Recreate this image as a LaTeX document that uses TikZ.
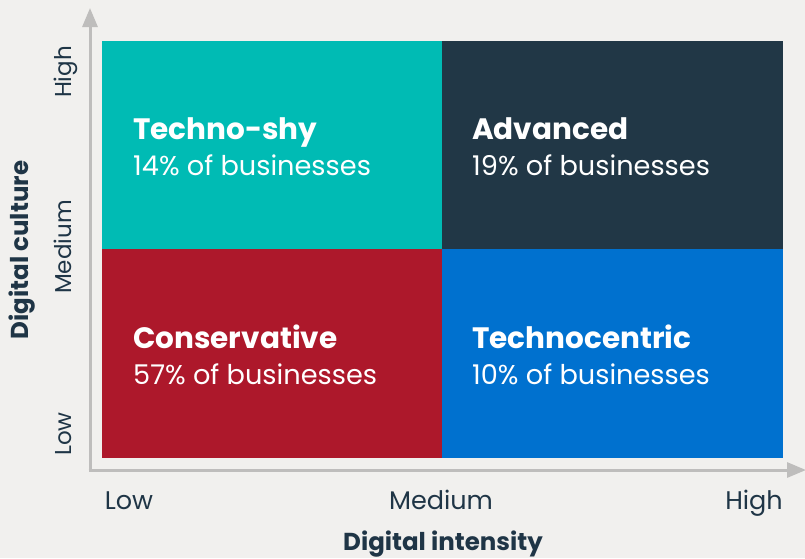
\documentclass[tikz,border=0pt]{standalone}
\usepackage{fontspec}
\setmainfont{Poppins}
\usetikzlibrary{arrows.meta}

\definecolor{paper}{HTML}{F1F0EE}
\definecolor{axisgray}{HTML}{BEBDBC}
\definecolor{inkblue}{HTML}{1F3546}
\definecolor{shyteal}{HTML}{00BBB4}
\definecolor{advnavy}{HTML}{213746}
\definecolor{conred}{HTML}{AD182B}
\definecolor{centblue}{HTML}{0071CF}

\begin{document}
\begin{tikzpicture}[
        x=1pt, y=-1pt,
        quad/.style={anchor=north west, inner sep=0pt, outer sep=0pt},
        qname/.style={anchor=base west, text=white, inner sep=0pt,
            font=\fontsize{29.5}{34}\selectfont\bfseries},
        qshare/.style={anchor=base west, text=white, inner sep=0pt,
            font=\fontsize{27.2}{32}\selectfont},
        level/.style={anchor=base, text=inkblue, inner sep=0pt,
            font=\fontsize{25.5}{30}\selectfont},
        ylevel/.style={level, rotate=90,
            font=\fontsize{23}{27}\selectfont},
        axistitle/.style={anchor=base, text=inkblue, inner sep=0pt,
            font=\fontsize{24.5}{29}\selectfont\bfseries},
        axis/.style={axisgray, line width=3pt,
            -{Triangle[length=19pt,width=15pt]}},
    ]
    % background and frame
    \fill[paper] (0,0) rectangle (805,558);
    \useasboundingbox (0,0) rectangle (805,558);

    % axes
    \coordinate (corner) at (90,470);
    \coordinate (ytip) at (90,8);
    \coordinate (xtip) at (806,470);
    \draw[axis] (corner) -- (ytip);
    \draw[axis] ([xshift=-1.5pt]corner) -- (xtip);

    % quadrants
    \node[quad, fill=shyteal, minimum width=340pt, minimum height=208pt]
        (shy) at (102,41) {};
    \node[quad, fill=advnavy, minimum width=341pt, minimum height=208pt]
        (adv) at (442,41) {};
    \node[quad, fill=conred, minimum width=340pt, minimum height=209pt]
        (con) at (102,249) {};
    \node[quad, fill=centblue, minimum width=341pt, minimum height=209pt]
        (cent) at (442,249) {};

    % quadrant labels
    \node[qname] (shyname) at (133,139) {Techno-shy};
    \node[qshare] (shyshare) at (133,175) {14\% of businesses};
    \node[qname] (advname) at (472,139) {Advanced};
    \node[qshare] (advshare) at (472,175) {19\% of businesses};
    \node[qname] (conname) at (133,348) {Conservative};
    \node[qshare] (conshare) at (133,384) {57\% of businesses};
    \node[qname] (centname) at (472,348) {Technocentric};
    \node[qshare] (centshare) at (472,384) {10\% of businesses};

    % x axis levels
    \node[level] (xlow) at (129,509) {Low};
    \node[level] (xmed) at (441,509) {Medium};
    \node[level] (xhigh) at (754,509) {High};
    \node[axistitle] (xtitle) at (443,550) {Digital intensity};

    % y axis levels
    \node[ylevel] (ylow) at (71,434) {Low};
    \node[ylevel] (ymed) at (71,247) {Medium};
    \node[ylevel] (yhigh) at (71,72) {High};
    \node[axistitle, rotate=90] (ytitle) at (28,250) {Digital culture};
\end{tikzpicture}
\end{document}
